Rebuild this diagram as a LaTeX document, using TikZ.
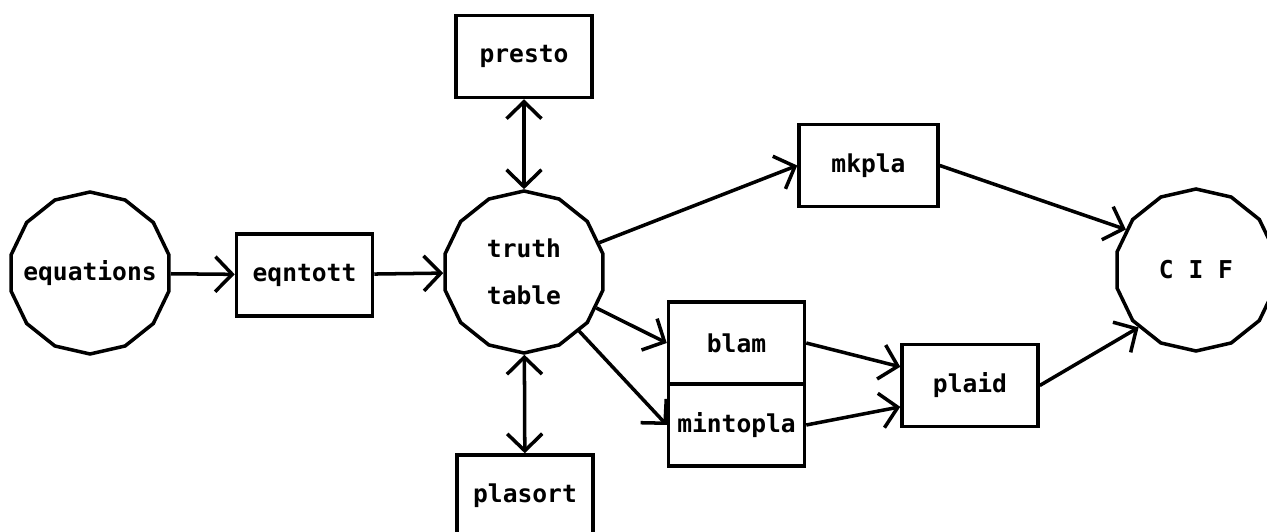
\documentclass[tikz,border=0pt]{standalone}
\usepackage{fontspec}
\setmonofont{DejaVu Sans Mono}
\usetikzlibrary{arrows.meta, positioning, shapes.geometric}
\tikzset{
  prog/.style={rectangle, draw, line width=2pt, minimum width=2.72cm, minimum height=1.64cm,
    align=center, inner sep=0pt, font=\fontsize{14}{16}\selectfont\ttfamily\bfseries},
  data/.style={regular polygon, regular polygon sides=14, shape border rotate=12.857, draw, line width=2pt,
    minimum size=3.24cm, inner sep=0pt, align=center, font=\fontsize{14}{27}\selectfont\ttfamily\bfseries},
  arrow/.style={-{Straight Barb[length=3.4mm, width=7mm]}, line width=2pt},
  arrowb/.style={{Straight Barb[length=3.4mm, width=7mm]}-{Straight Barb[length=3.4mm, width=7mm]}, line width=2pt},
}
\begin{document}
\begin{tikzpicture}
\useasboundingbox (0,0) rectangle (25.34,10.62);
\node[data] (eqn) at (1.80,5.16) {\makebox[2cm]{equations}};
\node[prog] (eqntott) at (6.09,5.12) {eqntott};
\node[data] (tt) at (10.48,5.18) {truth\\table};
\node[prog] (presto) at (10.48,9.49) {presto};
\node[prog] (plasort) at (10.50,0.70) {plasort};
\node[prog, minimum width=2.78cm] (mkpla) at (17.37,7.31) {mkpla};
\node[prog] (blam) at (14.73,3.76) {blam};
\node[prog, below=-2pt of blam] (mintopla) {mintopla};
\node[prog] (plaid) at (19.40,2.91) {plaid};
\node[data] (cif) at (23.92,5.22) {C I F};

\draw[arrow] (eqn) -- (eqntott);
\draw[arrow] (eqntott) -- (tt);
\draw[arrowb] (presto) -- (tt);
\draw[arrowb] (tt) -- (plasort);
\draw[arrow] (tt) -- (mkpla.west);
\draw[arrow] (tt) -- (blam.west);
\draw[arrow] (tt) -- (mintopla.west);
\draw[arrow] (mkpla.east) -- (cif.150);
\draw[arrow] (blam.east) -- (plaid.165);
\draw[arrow] (mintopla.east) -- (plaid.197);
\draw[arrow] (plaid.east) -- (cif.225);
\end{tikzpicture}
\end{document}
